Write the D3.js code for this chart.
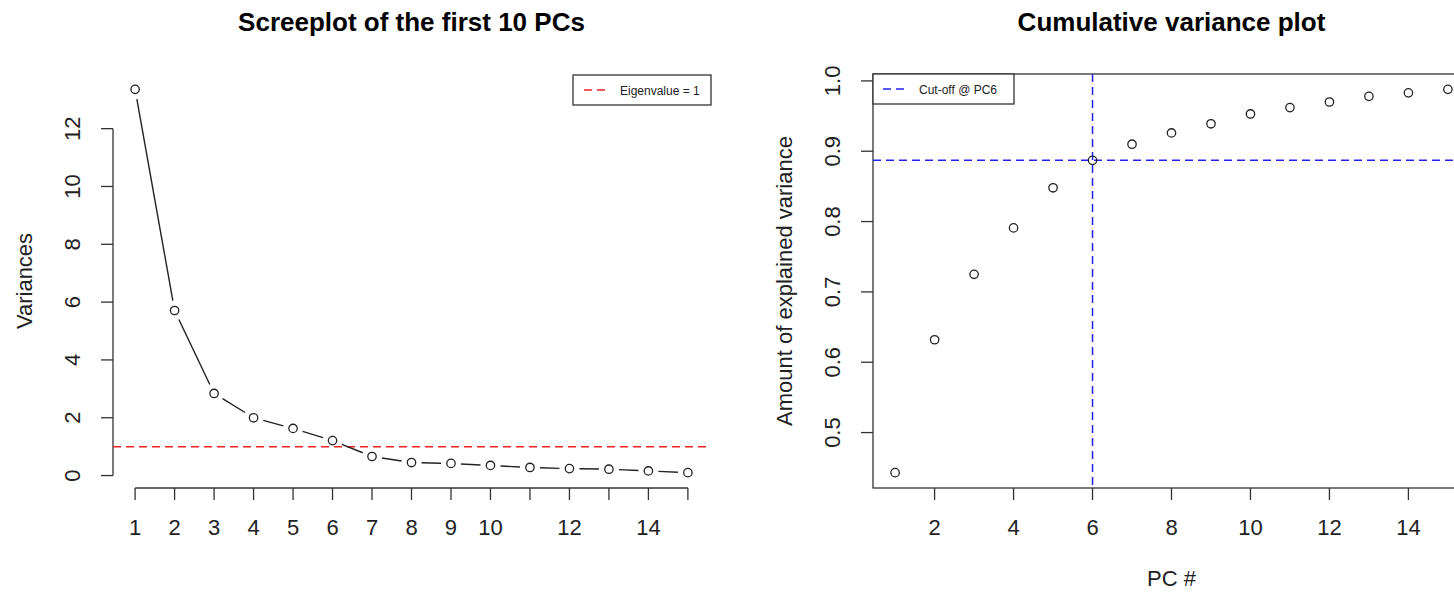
<!DOCTYPE html>
<html>
<head>
<meta charset="utf-8">
<script src="https://cdn.jsdelivr.net/npm/d3@7"></script>
<style>
  body { margin: 0; background: #fff; }
  svg text { font-family: "Liberation Sans", Arial, sans-serif; fill: #222; }
</style>
</head>
<body>
<div id="chart"></div>
<script>
// PC numbers and values
var pcs = [1, 2, 3, 4, 5, 6, 7, 8, 9, 10, 11, 12, 13, 14, 15];
var variances = [13.36, 5.71, 2.84, 2.00, 1.63, 1.21, 0.66, 0.45, 0.42, 0.35, 0.28, 0.24, 0.22, 0.16, 0.10];
var cumVariance = [0.443, 0.632, 0.725, 0.791, 0.848, 0.887, 0.910, 0.926, 0.939, 0.953, 0.962, 0.970, 0.978, 0.983, 0.988];

var leftXTicks = [1, 2, 3, 4, 5, 6, 7, 8, 9, 10, 11, 12, 13, 14, 15];
var leftXLabels = [1, 2, 3, 4, 5, 6, 7, 8, 9, 10, 12, 14];
var leftYTicks = [0, 2, 4, 6, 8, 10, 12];
var rightXTicks = [2, 4, 6, 8, 10, 12, 14];
var rightYTicks = [0.5, 0.6, 0.7, 0.8, 0.9, 1.0];

var eigenCut = 1;
var cutPC = 6;

var W = 1454, H = 592;
var svg = d3.select("#chart").append("svg")
    .attr("width", W)
    .attr("height", H);

// R style axis limits: data range widened by 4% on each side
var rExt = function(lo, hi) {
    var d = (hi - lo) * 0.04;
    return [lo - d, hi + d];
};

var plotTop = 74, plotBottom = 488;
var tickLen = 12;

// ---------- left: screeplot ----------
var L = {x0: 113, x1: 710};
var xL = d3.scaleLinear().domain(rExt(1, 15)).range([L.x0, L.x1]);
var yL = d3.scaleLinear().domain(rExt(d3.min(variances), d3.max(variances))).range([plotBottom, plotTop]);

var gl = svg.append("g");

gl.append("text")
    .attr("x", (L.x0 + L.x1) / 2).attr("y", 31)
    .attr("text-anchor", "middle")
    .style("font-size", "26px").style("font-weight", "bold")
    .style("fill", "#000")
    .text("Screeplot of the first 10 PCs");

// x axis (line only spans the ticks)
gl.append("line")
    .attr("x1", xL(leftXTicks[0])).attr("x2", xL(leftXTicks[leftXTicks.length - 1]))
    .attr("y1", plotBottom).attr("y2", plotBottom)
    .attr("stroke", "#333").attr("stroke-width", 1.3);
gl.selectAll(".xt").data(leftXTicks).enter().append("line")
    .attr("x1", d => xL(d)).attr("x2", d => xL(d))
    .attr("y1", plotBottom).attr("y2", plotBottom + tickLen)
    .attr("stroke", "#333").attr("stroke-width", 1.3);
gl.selectAll(".xl").data(leftXLabels).enter().append("text")
    .attr("x", d => xL(d)).attr("y", 535)
    .attr("text-anchor", "middle")
    .style("font-size", "22px")
    .text(d => d);

// y axis
gl.append("line")
    .attr("x1", L.x0).attr("x2", L.x0)
    .attr("y1", yL(leftYTicks[0])).attr("y2", yL(leftYTicks[leftYTicks.length - 1]))
    .attr("stroke", "#333").attr("stroke-width", 1.3);
gl.selectAll(".yt").data(leftYTicks).enter().append("line")
    .attr("x1", L.x0 - tickLen).attr("x2", L.x0)
    .attr("y1", d => yL(d)).attr("y2", d => yL(d))
    .attr("stroke", "#333").attr("stroke-width", 1.3);
gl.selectAll(".yl").data(leftYTicks).enter().append("text")
    .attr("transform", d => "translate(" + (L.x0 - 33) + "," + yL(d) + ") rotate(-90)")
    .attr("text-anchor", "middle")
    .style("font-size", "22px")
    .text(d => d);

gl.append("text")
    .attr("transform", "translate(32," + (plotTop + plotBottom) / 2 + ") rotate(-90)")
    .attr("text-anchor", "middle")
    .style("font-size", "22px")
    .text("Variances");

// eigenvalue = 1 line
gl.append("line")
    .attr("x1", L.x0).attr("x2", L.x1)
    .attr("y1", yL(eigenCut)).attr("y2", yL(eigenCut))
    .attr("stroke", "#ee2222").attr("stroke-width", 1.5)
    .attr("stroke-dasharray", "8,5");

// type="b": segments with gaps round the points
var gap = 10;
var segs = d3.pairs(pcs.map((p, i) => [xL(p), yL(variances[i])]));
gl.selectAll(".seg").data(segs).enter().append("line")
    .each(function(s) {
        var dx = s[1][0] - s[0][0], dy = s[1][1] - s[0][1];
        var len = Math.sqrt(dx * dx + dy * dy);
        if (len <= 2 * gap) return;
        var ux = dx / len, uy = dy / len;
        d3.select(this)
            .attr("x1", s[0][0] + ux * gap).attr("y1", s[0][1] + uy * gap)
            .attr("x2", s[1][0] - ux * gap).attr("y2", s[1][1] - uy * gap);
    })
    .attr("stroke", "#222").attr("stroke-width", 1.4);

gl.selectAll(".pt").data(pcs).enter().append("circle")
    .attr("cx", d => xL(d)).attr("cy", (d, i) => yL(variances[i]))
    .attr("r", 4.2)
    .attr("fill", "none").attr("stroke", "#222").attr("stroke-width", 1.3);

// legend
var lgL = gl.append("g").attr("transform", "translate(573,75)");
lgL.append("rect").attr("width", 138).attr("height", 30)
    .attr("fill", "#fff").attr("stroke", "#333").attr("stroke-width", 1.3);
lgL.append("line").attr("x1", 11).attr("x2", 36).attr("y1", 15).attr("y2", 15)
    .attr("stroke", "#ee2222").attr("stroke-width", 1.5).attr("stroke-dasharray", "8,5");
lgL.append("text").attr("x", 47).attr("y", 19.5)
    .style("font-size", "12px").text("Eigenvalue = 1");

// ---------- right: cumulative variance ----------
var R = {x0: 873, x1: 1470};
var xR = d3.scaleLinear().domain(rExt(1, 15)).range([R.x0, R.x1]);
var yR = d3.scaleLinear().domain(rExt(d3.min(cumVariance), d3.max(cumVariance))).range([plotBottom, plotTop]);

var gr = svg.append("g");

gr.append("text")
    .attr("x", (R.x0 + R.x1) / 2).attr("y", 31)
    .attr("text-anchor", "middle")
    .style("font-size", "26px").style("font-weight", "bold")
    .style("fill", "#000")
    .text("Cumulative variance plot");

gr.append("rect")
    .attr("x", R.x0).attr("y", plotTop)
    .attr("width", R.x1 - R.x0).attr("height", plotBottom - plotTop)
    .attr("fill", "none").attr("stroke", "#333").attr("stroke-width", 1.3);

gr.selectAll(".xt").data(rightXTicks).enter().append("line")
    .attr("x1", d => xR(d)).attr("x2", d => xR(d))
    .attr("y1", plotBottom).attr("y2", plotBottom + tickLen)
    .attr("stroke", "#333").attr("stroke-width", 1.3);
gr.selectAll(".xl").data(rightXTicks).enter().append("text")
    .attr("x", d => xR(d)).attr("y", 535)
    .attr("text-anchor", "middle")
    .style("font-size", "22px")
    .text(d => d);

gr.selectAll(".yt").data(rightYTicks).enter().append("line")
    .attr("x1", R.x0 - tickLen).attr("x2", R.x0)
    .attr("y1", d => yR(d)).attr("y2", d => yR(d))
    .attr("stroke", "#333").attr("stroke-width", 1.3);
gr.selectAll(".yl").data(rightYTicks).enter().append("text")
    .attr("transform", d => "translate(" + (R.x0 - 33) + "," + yR(d) + ") rotate(-90)")
    .attr("text-anchor", "middle")
    .style("font-size", "22px")
    .text(d => d3.format(".1f")(d));

gr.append("text")
    .attr("transform", "translate(792," + (plotTop + plotBottom) / 2 + ") rotate(-90)")
    .attr("text-anchor", "middle")
    .style("font-size", "22px")
    .text("Amount of explained variance");

gr.append("text")
    .attr("x", (R.x0 + R.x1) / 2).attr("y", 586)
    .attr("text-anchor", "middle")
    .style("font-size", "22px")
    .text("PC #");

// cut-off lines
gr.append("line")
    .attr("x1", xR(cutPC)).attr("x2", xR(cutPC))
    .attr("y1", plotTop).attr("y2", plotBottom)
    .attr("stroke", "#2222ee").attr("stroke-width", 1.5).attr("stroke-dasharray", "8,5");
gr.append("line")
    .attr("x1", R.x0).attr("x2", R.x1)
    .attr("y1", yR(cumVariance[cutPC - 1])).attr("y2", yR(cumVariance[cutPC - 1]))
    .attr("stroke", "#2222ee").attr("stroke-width", 1.5).attr("stroke-dasharray", "8,5");

gr.selectAll(".pt").data(pcs).enter().append("circle")
    .attr("cx", d => xR(d)).attr("cy", (d, i) => yR(cumVariance[i]))
    .attr("r", 4.2)
    .attr("fill", "none").attr("stroke", "#222").attr("stroke-width", 1.3);

var lgR = gr.append("g").attr("transform", "translate(873,74)");
lgR.append("rect").attr("width", 141).attr("height", 30)
    .attr("fill", "#fff").attr("stroke", "#333").attr("stroke-width", 1.3);
lgR.append("line").attr("x1", 10).attr("x2", 35).attr("y1", 15).attr("y2", 15)
    .attr("stroke", "#2222ee").attr("stroke-width", 1.5).attr("stroke-dasharray", "8,5");
lgR.append("text").attr("x", 46).attr("y", 19.5)
    .style("font-size", "12px").text("Cut-off @ PC6");
</script>
</body>
</html>
